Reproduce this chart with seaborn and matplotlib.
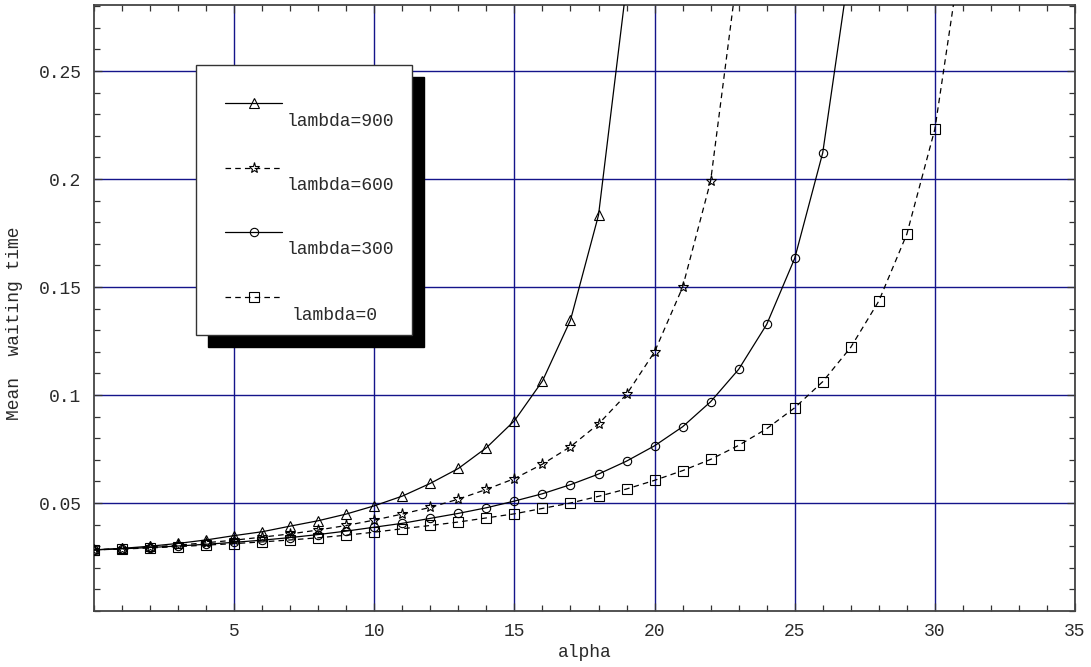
import numpy as np
import pandas as pd
import matplotlib
matplotlib.use("Agg")
import matplotlib.pyplot as plt
import seaborn as sns
from matplotlib.patches import Rectangle
from matplotlib.lines import Line2D
from matplotlib.ticker import FixedLocator, MultipleLocator

# ---- data ----
alpha_900 = list(range(0, 20))
wait_900 = [0.0283, 0.0290, 0.0300, 0.0313, 0.0329, 0.0349, 0.0367, 0.0393, 0.0418, 0.0449,
            0.0487, 0.0532, 0.0591, 0.0660, 0.0756, 0.0881, 0.1065, 0.1347, 0.1833, 0.2900]

alpha_600 = list(range(0, 24))
wait_600 = [0.0283, 0.0289, 0.0296, 0.0305, 0.0316, 0.0328, 0.0342, 0.0357, 0.0375, 0.0396,
            0.0421, 0.0449, 0.0480, 0.0518, 0.0563, 0.0613, 0.0680, 0.0761, 0.0866, 0.1003,
            0.1200, 0.1499, 0.1991, 0.3000]

alpha_300 = list(range(0, 28))
wait_300 = [0.0283, 0.0288, 0.0294, 0.0301, 0.0309, 0.0318, 0.0328, 0.0340, 0.0354, 0.0370,
            0.0388, 0.0406, 0.0429, 0.0452, 0.0478, 0.0509, 0.0543, 0.0585, 0.0634, 0.0694,
            0.0765, 0.0853, 0.0969, 0.1119, 0.1327, 0.1633, 0.2122, 0.3020]

alpha_0 = list(range(0, 32))
wait_0 = [0.0283, 0.0287, 0.0292, 0.0298, 0.0305, 0.0312, 0.0320, 0.0329, 0.0339, 0.0351,
          0.0365, 0.0381, 0.0396, 0.0412, 0.0431, 0.0450, 0.0475, 0.0500, 0.0531, 0.0565,
          0.0605, 0.0650, 0.0702, 0.0767, 0.0844, 0.0941, 0.1062, 0.1221, 0.1435, 0.1745,
          0.2231, 0.3100]

series_labels = ["lambda=900", "lambda=600", "lambda=300", "lambda=0"]
x_ticks = [5, 10, 15, 20, 25, 30, 35]
x_tick_labels = ["5", "10", "15", "20", "25", "30", "35"]
y_ticks = [0.05, 0.10, 0.15, 0.20, 0.25]
y_tick_labels = ["0.05", "0.1", "0.15", "0.2", "0.25"]
x_label = "alpha"
y_label = "Mean  waiting time"

# ---- style ----
sns.set_style("white")
plt.rcParams['font.family'] = ['Liberation Mono', 'DejaVu Sans Mono']
plt.rcParams['lines.scale_dashes'] = False

FS = 13
TXT = '#2a2a2a'

fig = plt.figure(figsize=(10.91, 6.67), dpi=100)
ax = fig.add_axes([94 / 1091, 1 - 611 / 667, 981 / 1091, 606 / 667])

styles = [
    dict(marker='^', ls='-', ms=6.5),
    dict(marker='*', ls=(0, (4, 3)), ms=8),
    dict(marker='o', ls='-', ms=6),
    dict(marker='s', ls=(0, (4, 3)), ms=7.5),
]
data = [(alpha_900, wait_900), (alpha_600, wait_600), (alpha_300, wait_300), (alpha_0, wait_0)]

for (xs, ys), st, lab in zip(data, styles, series_labels):
    df = pd.DataFrame({"alpha": xs, "wait": ys})
    sns.lineplot(data=df, x="alpha", y="wait", ax=ax, color='black', lw=0.9,
                 marker=st['marker'], linestyle=st['ls'], markersize=st['ms'],
                 fillstyle='none', markeredgecolor='black', markeredgewidth=0.8,
                 zorder=3, legend=False)

ax.set_xlim(0, 35)
ax.set_ylim(0, 0.2806)

ax.xaxis.set_major_locator(FixedLocator(x_ticks))
ax.set_xticklabels(x_tick_labels)
ax.yaxis.set_major_locator(FixedLocator(y_ticks))
ax.set_yticklabels(y_tick_labels)
ax.xaxis.set_minor_locator(MultipleLocator(1))
ax.yaxis.set_minor_locator(MultipleLocator(0.01))

ax.grid(True, which='major', color='#14148a', lw=1.0, zorder=1)
ax.set_axisbelow(True)

ax.tick_params(axis='both', which='both', direction='in', top=True, right=True,
               bottom=True, left=True, color='#333333', width=0.9)
ax.tick_params(axis='both', which='major', length=6)
ax.tick_params(axis='both', which='minor', length=4)
ax.tick_params(axis='x', which='major', pad=9, labelsize=FS, labelcolor=TXT)
ax.tick_params(axis='y', which='major', pad=9, labelsize=FS, labelcolor=TXT)

for sp in ax.spines.values():
    sp.set_color('#444444')
    sp.set_linewidth(1.3)

ax.set_xlabel(x_label, fontsize=FS, color=TXT)
ax.set_ylabel(y_label, fontsize=FS, color=TXT)
ax.xaxis.label.set_va('center')
ax.xaxis.set_label_coords(0.5, -0.0677)
ax.yaxis.label.set_va('center')
ax.yaxis.set_label_coords(-0.0815, 0.475)

# ---- legend box with hard black shadow ----
bx0, bx1 = (196 - 94) / 981, (412 - 94) / 981
by0, by1 = (611 - 335) / 606, (611 - 65) / 606
sdx, sdy = 12 / 981, -12 / 606
ax.add_patch(Rectangle((bx0 + sdx, by0 + sdy), bx1 - bx0, by1 - by0, transform=ax.transAxes,
                       facecolor='black', edgecolor='black', zorder=5))
ax.add_patch(Rectangle((bx0, by0), bx1 - bx0, by1 - by0, transform=ax.transAxes,
                       facecolor='white', edgecolor='#333333', lw=1.0, zorder=6))

line_y = [(611 - 103) / 606, (611 - 168) / 606, (611 - 232) / 606, (611 - 297) / 606]
text_y = [(611 - 121) / 606, (611 - 186) / 606, (611 - 250) / 606, (611 - 315) / 606]
text_x = [(287 - 94) / 981] * 3 + [(292 - 94) / 981]
lx0, lx1, lxm = (225 - 94) / 981, (282 - 94) / 981, (253.5 - 94) / 981
for st, lab, ly, ty, tx in zip(styles, series_labels, line_y, text_y, text_x):
    ax.add_line(Line2D([lx0, lx1], [ly, ly], transform=ax.transAxes, color='black',
                       lw=0.9, linestyle=st['ls'], zorder=7))
    ax.add_line(Line2D([lxm], [ly], transform=ax.transAxes, marker=st['marker'],
                       markersize=st['ms'], fillstyle='none', markeredgecolor='black',
                       markeredgewidth=0.8, linestyle='none', zorder=8))
    ax.text(tx, ty, lab, transform=ax.transAxes, fontsize=FS, va='center', ha='left',
            color=TXT, zorder=8)

fig.savefig("out.png", dpi=100)
